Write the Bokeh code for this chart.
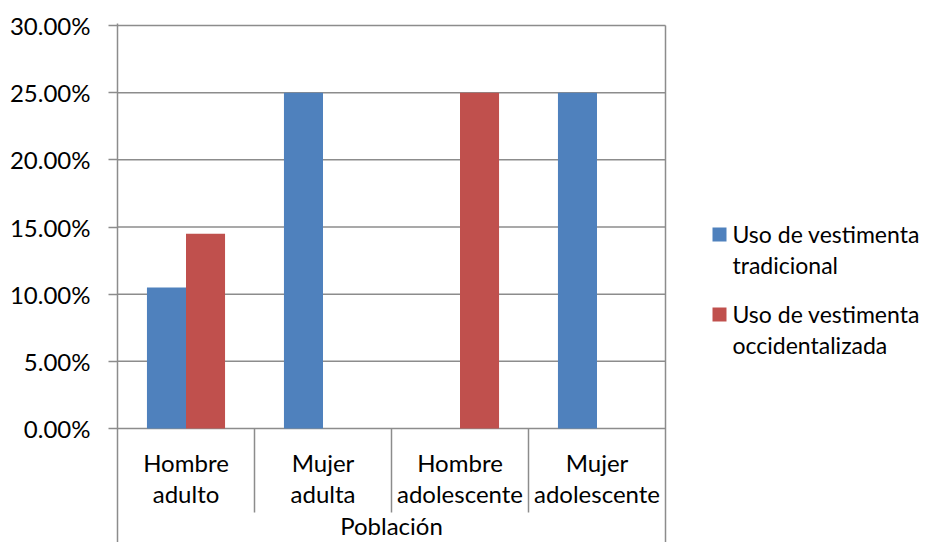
from bokeh.plotting import figure
from bokeh.models import Range1d, FixedTicker, NumeralTickFormatter
from bokeh.core.properties import value
from bokeh.embed import file_html
from bokeh.resources import INLINE

# ---------------- data ----------------
categories = ["Hombre adulto", "Mujer adulta", "Hombre adolescente", "Mujer adolescente"]
cat_line1 = ["Hombre", "Mujer", "Hombre", "Mujer"]
cat_line2 = ["adulto", "adulta", "adolescente", "adolescente"]
tradicional = [0.105, 0.25, 0.0, 0.25]
occidentalizada = [0.145, 0.0, 0.25, 0.0]
series_names = ["Uso de vestimenta\ntradicional", "Uso de vestimenta\noccidentalizada"]
series_colors = ["#4F81BD", "#C0504D"]
y_ticks = [0.0, 0.05, 0.10, 0.15, 0.20, 0.25, 0.30]
axis_title = "Población"

# ---------------- layout ----------------
W, H = 922, 542
LEFT = 117          # frame left (px)
TOP = 23            # frame top (px)
ZERO_PX = 428       # pixel row of 0 %
TOP_TICK_PX = 25    # pixel row of 30 %
PX_PER_CAT = 137.0
PX_PER_UNIT = (ZERO_PX - TOP_TICK_PX) / max(y_ticks)
FONT = "Lato"
FS = "24px"
GRID = "#8c8c8c"
BAR_W = 0.285
TXT_SHIFT = 10      # text glyph baseline correction (px)

def fx(px):
    return (px - LEFT) / PX_PER_CAT

def fy(py):
    return (ZERO_PX - py) / PX_PER_UNIT

def ty(py):
    return fy(py - TXT_SHIFT)

n = len(categories)

p = figure(width=W, height=H,
           x_range=Range1d(0, fx(W)), y_range=Range1d(fy(H), fy(TOP)),
           output_backend="svg", toolbar_location=None,
           x_axis_location=None, y_axis_location="left",
           min_border_left=LEFT, min_border_right=0,
           min_border_top=TOP, min_border_bottom=0,
           outline_line_color=None, background_fill_color="white",
           border_fill_color="white")
p.grid.visible = False

ax = p.yaxis[0]
ax.ticker = FixedTicker(ticks=y_ticks, minor_ticks=[])
ax.formatter = NumeralTickFormatter(format="0.00%")
ax.major_label_text_font = FONT
ax.major_label_text_font_size = FS
ax.major_label_text_color = "black"
ax.axis_line_color = GRID
ax.axis_line_width = 1.5
ax.major_tick_line_color = GRID
ax.major_tick_line_width = 1.5
ax.major_tick_out = 9
ax.major_tick_in = 0
ax.minor_tick_out = 0
ax.minor_tick_in = 0
ax.major_label_standoff = 18

# gridlines
p.segment(x0=[0] * len(y_ticks), y0=y_ticks, x1=[n] * len(y_ticks), y1=y_ticks,
          line_color=GRID, line_width=1.5)
# right border of plot area
p.segment(x0=[n], y0=[fy(H)], x1=[n], y1=[max(y_ticks)], line_color=GRID, line_width=1.5)
# category separators
p.segment(x0=list(range(1, n)), y0=[0] * (n - 1), x1=list(range(1, n)),
          y1=[fy(512)] * (n - 1), line_color=GRID, line_width=1.5)

# bars
centers = [i + 0.5 for i in range(n)]
p.vbar(x=[c - BAR_W / 2 for c in centers], top=tradicional, bottom=0, width=BAR_W,
       fill_color=series_colors[0], line_color=None)
p.vbar(x=[c + BAR_W / 2 for c in centers], top=occidentalizada, bottom=0, width=BAR_W,
       fill_color=series_colors[1], line_color=None)

# category labels
p.text(x=centers, y=[ty(472)] * n, text=cat_line1, text_align="center",
       text_baseline="alphabetic", text_font=value(FONT), text_font_size=FS,
       text_color="black")
p.text(x=centers, y=[ty(503)] * n, text=cat_line2, text_align="center",
       text_baseline="alphabetic", text_font=value(FONT), text_font_size=FS,
       text_color="black")
p.text(x=[n / 2], y=[ty(535)], text=[axis_title], text_align="center",
       text_baseline="alphabetic", text_font=value(FONT), text_font_size=FS,
       text_color="black")

# legend (manual)
for k, (name, col) in enumerate(zip(series_names, series_colors)):
    off = 80 * k
    lines = name.split("\n")
    p.scatter(x=[fx(719)], y=[fy(234 + off)], marker="square", size=14,
              fill_color=col, line_color=None)
    p.text(x=[fx(732)] * len(lines), y=[ty(243 + off), ty(274 + off)], text=lines,
           text_align="left", text_baseline="alphabetic", text_font=value(FONT),
           text_font_size="23px", text_color="black")

open("out.html", "w").write(file_html(p, INLINE))
